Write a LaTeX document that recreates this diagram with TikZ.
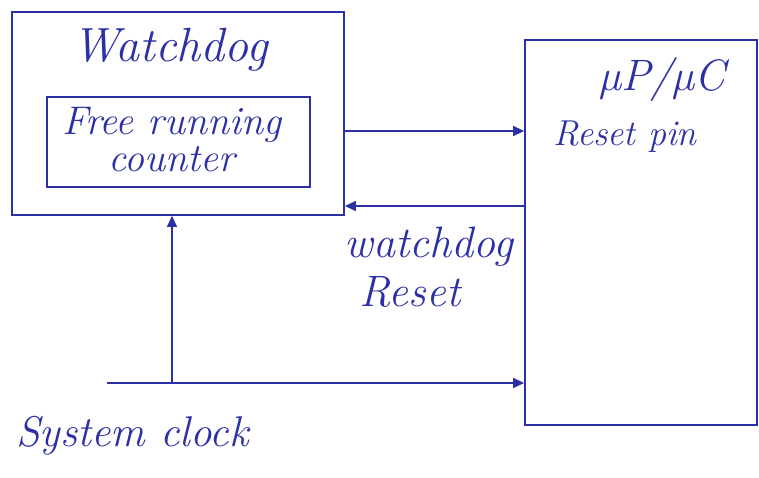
\documentclass[tikz,border=0pt]{standalone}
\usepackage{fontspec}
\usetikzlibrary{arrows.meta}
\definecolor{ink}{HTML}{2B30A6}
\tikzset{
  block/.style={draw=ink, line width=1.8pt, rectangle, inner sep=0pt},
  wire/.style={draw=ink, line width=1.4pt},
  arrow/.style={wire, -{Triangle[length=11pt,width=10pt]}},
  hand/.style={text=ink, font=\itshape\fontsize{44}{44}\selectfont, inner sep=0pt, align=center},
}
\begin{document}
\begin{tikzpicture}[x=1pt,y=-1pt]
  \useasboundingbox[fill=white] (0,0) rectangle (759,478);

  % blocks
  \node[block, minimum width=332pt, minimum height=203pt] (wd) at (178,113.5) {};
  \node[block, minimum width=263pt, minimum height=90pt] (frc) at (178.5,142) {};
  \node[block, minimum width=232pt, minimum height=385pt] (mcu) at (641,232.5) {};

  % labels
  \node[hand, font=\itshape\fontsize{48}{48}\selectfont] (wdlabel) at (170,50) {Watchdog};
  \node[hand, font=\itshape\fontsize{40}{37}\selectfont] (frclabel) at (172,140) {Free running\\counter};
  \node[hand] (mculabel) at (662,80) {µP/µC};
  \node[hand, anchor=west, font=\itshape\fontsize{36}{36}\selectfont] (rplabel) at (553,137) {Reset pin};
  \node[hand] (wrlabel1) at (429,247) {watchdog};
  \node[hand] (wrlabel2) at (410,292) {Reset};
  \node[hand, anchor=west, font=\itshape\fontsize{43}{43}\selectfont] (clklabel) at (16,436) {System clock};

  % connectors
  \coordinate (clk) at (107,383);
  \coordinate (tap) at (172,383);
  \draw[arrow] (wd.east |- 0,131) -- (mcu.west |- 0,131);
  \draw[arrow] (mcu.west |- 0,206) -- (wd.east |- 0,206);
  \draw[arrow] (clk) -- (mcu.west |- clk);
  \draw[arrow] (tap) -- (tap |- wd.south);
\end{tikzpicture}
\end{document}
